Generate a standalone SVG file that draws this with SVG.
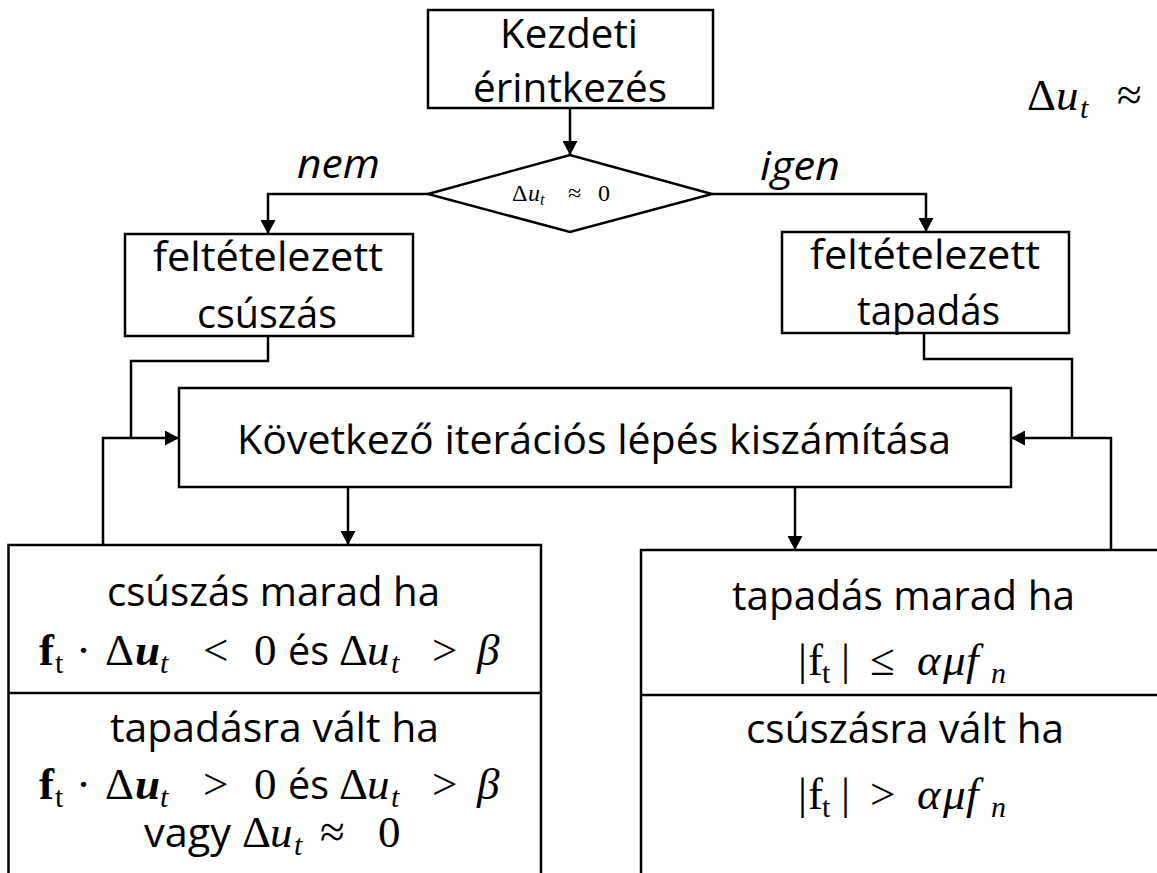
<svg xmlns="http://www.w3.org/2000/svg" width="1157" height="873" viewBox="0 0 1157 873">
<style>
.box{fill:#fff;stroke:#000;stroke-width:2.5}
.conn{fill:none;stroke:#000;stroke-width:2.5}
.t{font-family:"Open Sans","Noto Sans",sans-serif;font-size:41px;fill:#000}
.m{font-family:"Liberation Serif","DejaVu Serif",serif;font-size:45px;fill:#000}
.i{font-style:italic}
.b{font-weight:bold}
.s{font-size:30px}
</style>
<defs>
<marker id="ah" markerUnits="userSpaceOnUse" markerWidth="14" markerHeight="15" refX="14" refY="7.5" orient="auto">
<path d="M0,0 L14,7.5 L0,15 z" fill="#000"/>
</marker>
</defs>
<rect width="1157" height="873" fill="#fff"/>

<g id="connectors">
<path class="conn" d="M570,108 L570,155" marker-end="url(#ah)"/>
<path class="conn" d="M428,194 L268,194 L268,234" marker-end="url(#ah)"/>
<path class="conn" d="M712,194 L926,194 L926,232" marker-end="url(#ah)"/>
<path class="conn" d="M268,336 L268,361 L131,361 L131,438"/>
<path class="conn" d="M103,545 L103,438 L179,438" marker-end="url(#ah)"/>
<path class="conn" d="M924,333 L924,359 L1072,359 L1072,438"/>
<path class="conn" d="M1111,550 L1111,438 L1011,438" marker-end="url(#ah)"/>
<path class="conn" d="M348,487 L348,545" marker-end="url(#ah)"/>
<path class="conn" d="M795,487 L795,550" marker-end="url(#ah)"/>
</g>

<g id="labels">
<text class="t i" x="297" y="178" textLength="83" lengthAdjust="spacingAndGlyphs">nem</text>
<text class="t i" x="760" y="180" textLength="80" lengthAdjust="spacingAndGlyphs">igen</text>
</g>

<g id="start">
<rect class="box" x="428" y="10" width="285" height="98"/>
<text class="t" x="500" y="48" textLength="138" lengthAdjust="spacingAndGlyphs">Kezdeti</text>
<text class="t" x="473" y="102" textLength="194" lengthAdjust="spacingAndGlyphs">érintkezés</text>
</g>

<g id="decision">
<polygon class="box" points="428,194 570,155 712,194 570,232"/>
<text class="m" style="font-size:24px" y="201"><tspan x="512">Δ</tspan><tspan x="528" class="i">u</tspan><tspan x="540" class="i" style="font-size:16px" dy="4">t</tspan><tspan x="568" dy="-4">≈</tspan><tspan x="598">0</tspan></text>
</g>

<g id="slip">
<rect class="box" x="125" y="234" width="288" height="102"/>
<text class="t" x="153" y="271" textLength="230" lengthAdjust="spacingAndGlyphs">feltételezett</text>
<text class="t" x="197" y="328" textLength="140" lengthAdjust="spacingAndGlyphs">csúszás</text>
</g>

<g id="stick">
<rect class="box" x="782" y="232" width="287" height="101"/>
<text class="t" x="810" y="269" textLength="230" lengthAdjust="spacingAndGlyphs">feltételezett</text>
<text class="t" x="857" y="325" textLength="143" lengthAdjust="spacingAndGlyphs">tapadás</text>
</g>

<g id="iteration">
<rect class="box" x="179" y="388" width="832" height="99"/>
<text class="t" x="237" y="454" textLength="714" lengthAdjust="spacingAndGlyphs">Következő iterációs lépés kiszámítása</text>
</g>

<g id="slip-check">
<rect class="box" x="8.5" y="545" width="532.5" height="340"/>
<line class="conn" x1="8.5" y1="693" x2="541" y2="693"/>
<text class="t" x="107" y="606" textLength="333" lengthAdjust="spacingAndGlyphs">csúszás marad ha</text>
<text class="m" y="665"><tspan x="39" class="b">f</tspan><tspan x="55" class="s" dy="8">t</tspan><tspan x="76" dy="-8">·</tspan><tspan x="105">Δ</tspan><tspan x="135" class="b i">u</tspan><tspan x="160" class="i s" dy="8">t</tspan><tspan x="203" dy="-8">&lt;</tspan><tspan x="254">0</tspan><tspan x="339">Δ</tspan><tspan x="367" class="i">u</tspan><tspan x="391" class="i s" dy="8">t</tspan><tspan x="432" dy="-8">&gt;</tspan><tspan x="477" class="i">β</tspan></text>
<text class="t" x="288" y="665" textLength="41" lengthAdjust="spacingAndGlyphs">és</text>
<text class="t" x="110" y="742" textLength="329" lengthAdjust="spacingAndGlyphs">tapadásra vált ha</text>
<text class="m" y="799"><tspan x="39" class="b">f</tspan><tspan x="55" class="s" dy="8">t</tspan><tspan x="76" dy="-8">·</tspan><tspan x="105">Δ</tspan><tspan x="135" class="b i">u</tspan><tspan x="160" class="i s" dy="8">t</tspan><tspan x="203" dy="-8">&gt;</tspan><tspan x="254">0</tspan><tspan x="339">Δ</tspan><tspan x="367" class="i">u</tspan><tspan x="391" class="i s" dy="8">t</tspan><tspan x="432" dy="-8">&gt;</tspan><tspan x="477" class="i">β</tspan></text>
<text class="t" x="288" y="799" textLength="41" lengthAdjust="spacingAndGlyphs">és</text>
<text class="t" x="144" y="847" textLength="87" lengthAdjust="spacingAndGlyphs">vagy</text>
<text class="m" y="847"><tspan x="242">Δ</tspan><tspan x="270" class="i">u</tspan><tspan x="294" class="i s" dy="8">t</tspan><tspan x="320" dy="-8">≈</tspan><tspan x="378">0</tspan></text>
</g>

<g id="stick-check">
<rect class="box" x="641" y="550" width="540" height="340"/>
<line class="conn" x1="641" y1="695" x2="1170" y2="695"/>
<text class="t" x="732" y="610" textLength="343" lengthAdjust="spacingAndGlyphs">tapadás marad ha</text>
<text class="m" y="675"><tspan x="798">|</tspan><tspan x="808">f</tspan><tspan x="822" class="s" dy="8">t</tspan><tspan x="841" dy="-8">|</tspan><tspan x="870">≤</tspan><tspan x="917" class="i">α</tspan><tspan x="943" class="i">μ</tspan><tspan x="966" class="i">f</tspan><tspan x="991" class="i s" dy="8">n</tspan></text>
<text class="t" x="746" y="743" textLength="318" lengthAdjust="spacingAndGlyphs">csúszásra vált ha</text>
<text class="m" y="809"><tspan x="798">|</tspan><tspan x="808">f</tspan><tspan x="822" class="s" dy="8">t</tspan><tspan x="841" dy="-8">|</tspan><tspan x="870">&gt;</tspan><tspan x="917" class="i">α</tspan><tspan x="943" class="i">μ</tspan><tspan x="966" class="i">f</tspan><tspan x="991" class="i s" dy="8">n</tspan></text>
</g>

<g id="side-formula">
<text class="m" y="110"><tspan x="1027">Δ</tspan><tspan x="1056" class="i">u</tspan><tspan x="1080" class="i s" dy="8">t</tspan><tspan x="1117" dy="-8">≈</tspan></text>
</g>
</svg>
